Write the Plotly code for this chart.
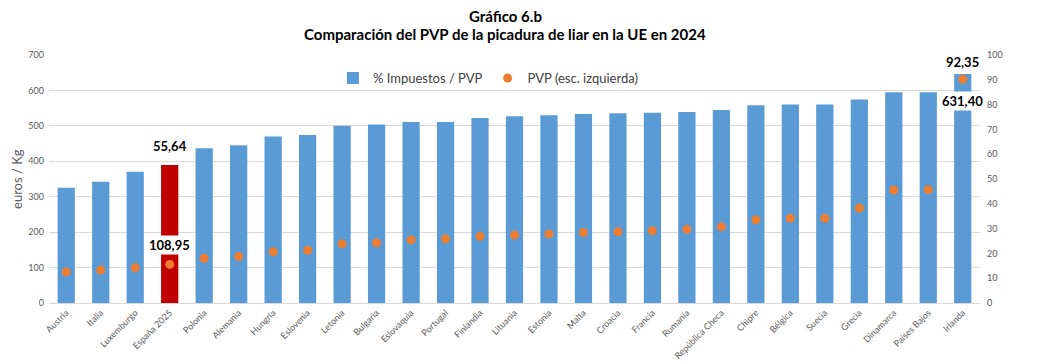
import plotly.graph_objects as go

countries = ["Austria", "Italia", "Luxemburgo", "España 2025", "Polonia", "Alemania", "Hungría",
             "Eslovenia", "Letonia", "Bulgaria", "Eslovaquia", "Portugal", "Finlandia", "Lituania",
             "Estonia", "Malta", "Croacia", "Francia", "Rumanía", "República Checa", "Chipre",
             "Bélgica", "Suecia", "Grecia", "Dinamarca", "Países Bajos", "Irlanda"]

tax_pct = [46.5, 48.9, 52.9, 55.64, 62.4, 63.6, 67.1, 67.7, 71.5, 72.0, 73.0, 73.0, 74.6, 75.3,
           75.7, 76.2, 76.5, 76.7, 77.0, 77.8, 79.7, 80.0, 80.0, 82.1, 85.0, 85.0, 92.35]

pvp = [88, 93, 100, 108.95, 126, 131, 145, 149, 167, 170, 178, 181, 188, 192,
       195, 199, 201, 204, 208, 215, 235, 239, 239, 268, 319, 320, 631.40]

left_ticks = [0, 100, 200, 300, 400, 500, 600, 700]
right_ticks = [0, 10, 20, 30, 40, 50, 60, 70, 80, 90, 100]

BLUE = "#5B9BD5"
RED = "#C00000"
ORANGE = "#ED7D31"
GRAY = "#595959"
FONT = "Lato"

bar_colors = [RED if c.startswith("España") else BLUE for c in countries]

fig = go.Figure()
# bars on the base axis (right-hand % scale), points on the overlaying left axis
fig.add_trace(go.Bar(
    x=countries, y=tax_pct, yaxis="y", name="% Impuestos / PVP",
    marker=dict(color=bar_colors, line=dict(width=0)),
))
fig.add_trace(go.Scatter(
    x=countries, y=pvp, yaxis="y2", mode="markers", name="PVP (esc. izquierda)",
    marker=dict(color=ORANGE, size=9, opacity=1, line=dict(width=0)),
))

i_es = countries.index("España 2025")
i_ie = countries.index("Irlanda")

def fmt(v):
    return f"{v:.2f}".replace(".", ",")

ann_font = dict(family=FONT, size=13, color="#000000")
annotations = [
    dict(x=countries[i_es], y=tax_pct[i_es], xref="x", yref="y", text="<b>" + fmt(tax_pct[i_es]) + "</b>",
         showarrow=False, yshift=19, font=ann_font),
    dict(x=countries[i_es], y=pvp[i_es], xref="x", yref="y2", text="<b>" + fmt(pvp[i_es]) + "</b>",
         showarrow=False, yshift=19, font=ann_font, bgcolor="white", borderpad=1),
    dict(x=countries[i_ie], y=tax_pct[i_ie], xref="x", yref="y", text="<b>" + fmt(tax_pct[i_ie]) + "</b>",
         showarrow=False, yshift=12, font=ann_font),
    dict(x=countries[i_ie], y=pvp[i_ie], xref="x", yref="y2", text="<b>" + fmt(pvp[i_ie]) + "</b>",
         showarrow=False, yshift=-22, font=ann_font, bgcolor="white", borderpad=1),
    dict(x=0.49, y=1.157, xref="paper", yref="paper", text="<b>Gráfico 6.b</b>", showarrow=False,
         font=dict(family=FONT, size=15, color="#000000"), xanchor="center", yanchor="middle"),
    dict(x=0.49, y=1.085, xref="paper", yref="paper",
         text="<b>Comparación del PVP de la picadura de liar en la UE en 2024</b>", showarrow=False,
         font=dict(family=FONT, size=15, color="#000000"), xanchor="center", yanchor="middle"),
    dict(x=-0.0344, y=0.5, xref="paper", yref="paper", text="euros / Kg", textangle=-90,
         showarrow=False, font=dict(family=FONT, size=13, color=GRAY), xanchor="center", yanchor="middle"),
]

fig.update_layout(
    width=1029, height=354,
    margin=dict(l=41, r=57, t=47, b=59, autoexpand=False),
    paper_bgcolor="white", plot_bgcolor="white",
    bargap=0.5,
    showlegend=True,
    legend=dict(orientation="h", x=0.472, y=0.907, xanchor="center", yanchor="middle",
                font=dict(family=FONT, size=13, color="#404040"), bgcolor="rgba(0,0,0,0)",
                itemwidth=30),
    xaxis=dict(type="category", range=[-0.5, len(countries) - 0.5], tickangle=-45,
               tickfont=dict(family=FONT, size=9, color=GRAY),
               showline=True, linecolor="#D9D9D9", linewidth=1, ticks="", showgrid=False,
               automargin=False),
    yaxis=dict(range=[0, 100], tickvals=right_ticks, side="right",
               tickfont=dict(family=FONT, size=9, color=GRAY), showgrid=False, zeroline=False,
               ticks="", ticklabelstandoff=6, automargin=False),
    yaxis2=dict(range=[0, 700], tickvals=left_ticks, overlaying="y", side="left",
                tickfont=dict(family=FONT, size=9, color=GRAY),
                showgrid=True, gridcolor="#D9D9D9", gridwidth=1, zeroline=False, ticks="",
                ticklabelstandoff=4, automargin=False),
    annotations=annotations,
)

fig.write_html("out.html")
